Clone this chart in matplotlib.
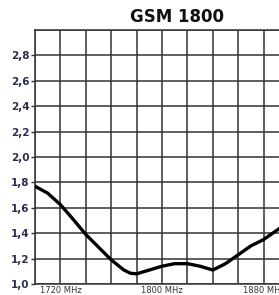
import numpy as np
import matplotlib
matplotlib.use("Agg")
import matplotlib.pyplot as plt

# curve (MHz, VSWR)
freq = [1700, 1710, 1720, 1730, 1740, 1750, 1760, 1770, 1775, 1780, 1790,
        1800, 1810, 1820, 1830, 1840, 1850, 1860, 1870, 1880, 1890, 1900]
vswr = [1.77, 1.715, 1.625, 1.51, 1.39, 1.29, 1.19, 1.11, 1.085, 1.08, 1.11,
        1.14, 1.16, 1.16, 1.14, 1.11, 1.16, 1.23, 1.30, 1.35, 1.42, 1.49]

y_ticks = [1.0, 1.2, 1.4, 1.6, 1.8, 2.0, 2.2, 2.4, 2.6, 2.8]
y_labels = ["1,0", "1,2", "1,4", "1,6", "1,8", "2,0", "2,2", "2,4", "2,6", "2,8"]
x_ticks = [1720, 1800, 1880]
x_labels = ["1720 MHz", "1800 MHz", "1880 MHz"]
title = "GSM 1800"

W, H = 279, 295
DPI = 100
fig = plt.figure(figsize=(W / DPI, H / DPI), dpi=DPI)
# axes runs past the right edge of the picture, as in the reference
ax = fig.add_axes([35 / W, (H - 284) / H, 254 / W, 254 / H])

grid_c = "#333333"
ax.set_xlim(1700, 1900)
ax.set_ylim(1.0, 3.0)
ax.set_xticks(np.arange(1700, 1901, 20), minor=True)
ax.set_yticks(np.arange(1.0, 3.01, 0.2), minor=True)
ax.set_axisbelow(True)
for s in ax.spines.values():
    s.set_color(grid_c)
    s.set_linewidth(1.1)

ax.plot(freq, vswr, color="black", lw=2.4, solid_capstyle="round",
        solid_joinstyle="round", zorder=3)

ax.set_yticks(y_ticks)
ax.set_yticklabels(y_labels, fontsize=7.5, color="#2b2d4f", fontweight="bold")
ax.set_xticks(x_ticks)
ax.set_xticklabels(x_labels, fontsize=6, color="#333333")
ax.grid(which="both", color=grid_c, lw=1.1)
ax.tick_params(axis="y", which="major", length=3, width=1.0, color=grid_c, pad=1)
ax.tick_params(axis="x", which="major", length=0, pad=1.5)
ax.tick_params(which="minor", length=0)

fig.text(177 / W, 1 - 17 / H, title, ha="center", va="center",
         fontsize=12, fontweight="bold", color="#111111")

fig.savefig("out.png", dpi=DPI)
